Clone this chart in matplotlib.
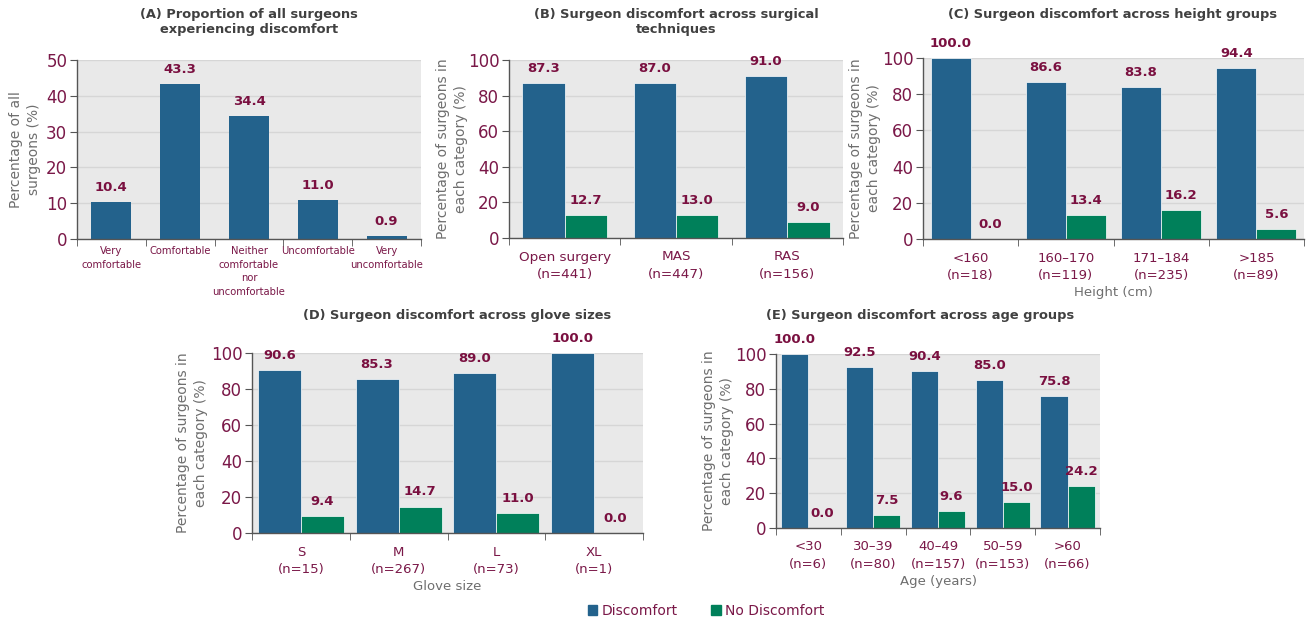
import matplotlib
matplotlib.use("Agg")
import matplotlib.pyplot as plt
import numpy as np
from matplotlib.patches import Patch

# ---------------- data ----------------
a_cats = ["Very\ncomfortable", "Comfortable", "Neither\ncomfortable\nnor\nuncomfortable",
          "Uncomfortable", "Very\nuncomfortable"]
a_vals = [10.4, 43.3, 34.4, 11.0, 0.9]

b_cats = ["Open surgery\n(n=441)", "MAS\n(n=447)", "RAS\n(n=156)"]
b_disc = [87.3, 87.0, 91.0]
b_nodisc = [12.7, 13.0, 9.0]

c_cats = ["<160\n(n=18)", "160\u2013170\n(n=119)", "171\u2013184\n(n=235)", ">185\n(n=89)"]
c_disc = [100.0, 86.6, 83.8, 94.4]
c_nodisc = [0.0, 13.4, 16.2, 5.6]

d_cats = ["S\n(n=15)", "M\n(n=267)", "L\n(n=73)", "XL\n(n=1)"]
d_disc = [90.6, 85.3, 89.0, 100.0]
d_nodisc = [9.4, 14.7, 11.0, 0.0]

e_cats = ["<30\n(n=6)", "30\u201339\n(n=80)", "40\u201349\n(n=157)", "50\u201359\n(n=153)", ">60\n(n=66)"]
e_disc = [100.0, 92.5, 90.4, 85.0, 75.8]
e_nodisc = [0.0, 7.5, 9.6, 15.0, 24.2]

# ---------------- style ----------------
BLUE = "#23628C"
GREEN = "#00805A"
BG = "#E9E9E9"
GRID = "#D6D6D6"
MAROON = "#7A1848"
VAL = "#7A1040"
TITLE = "#404040"
GRAYLAB = "#6E6E6E"
plt.rcParams['font.family'] = ['DejaVu Sans']

W, H = 1309, 625
fig = plt.figure(figsize=(W / 100, H / 100), dpi=100)


def make_ax(l, t, r, b):
    return fig.add_axes([l / W, 1 - b / H, (r - l) / W, (b - t) / H]), (l, r)


def style(axinfo, ncat, ymax, step, ylabel, ylab_right, xlabel=None, ticksize=12,
          catsize=9.5):
    ax, (l, r) = axinfo
    ax.set_facecolor(BG)
    ax.set_xlim(-0.5, ncat - 0.5)
    ax.set_ylim(0, ymax)
    ax.set_yticks(np.arange(0, ymax + 1, step))
    ax.yaxis.grid(True, color=GRID, lw=1)
    ax.set_axisbelow(True)
    for s in ["top", "right"]:
        ax.spines[s].set_visible(False)
    for s in ["left", "bottom"]:
        ax.spines[s].set_color("#555555")
        ax.spines[s].set_linewidth(1)
    ax.tick_params(axis="y", colors="#555555", labelcolor=MAROON, labelsize=ticksize,
                   length=5, pad=2)
    ax.set_xticks(np.arange(ncat))
    ax.set_xticks(np.arange(-0.5, ncat, 1), minor=True)
    ax.tick_params(axis="x", which="major", length=0, labelcolor=MAROON,
                   labelsize=catsize, pad=9)
    ax.tick_params(axis="x", which="minor", length=5, color="#555555")
    ax.set_ylabel(ylabel, color=GRAYLAB, fontsize=10, linespacing=1.35)
    ax.yaxis.set_label_coords((ylab_right - l) / (r - l), 0.5)
    if xlabel:
        ax.set_xlabel(xlabel, color=GRAYLAB, fontsize=9.5, labelpad=3)
    return ax


def grouped(ax, cats, disc, nodisc, bw, off=4.5):
    x = np.arange(len(cats))
    b1 = ax.bar(x - bw / 2, disc, bw, color=BLUE, edgecolor="white", linewidth=0.5)
    b2 = ax.bar(x + bw / 2, nodisc, bw, color=GREEN, edgecolor="white", linewidth=0.5)
    ax.set_xticklabels(cats, linespacing=1.45)
    for bars, vals in ((b1, disc), (b2, nodisc)):
        for r, v in zip(bars, vals):
            ax.text(r.get_x() + r.get_width() / 2, v + off, f"{v:.1f}", ha="center",
                    va="bottom", color=VAL, fontsize=9.5, fontweight="bold",
                    clip_on=False)


TS = 9.4  # title size
YL = "Percentage of surgeons in\neach category (%)"

# (A)
axA = style(make_ax(77, 60, 421, 239), 5, 50, 10, "Percentage of all\nsurgeons (%)", 41,
            catsize=7.2)
bars = axA.bar(np.arange(5), a_vals, 0.58, color=BLUE)
axA.set_xticklabels(a_cats, linespacing=1.45)
axA.tick_params(axis="x", which="major", pad=5)
for r, v in zip(bars, a_vals):
    axA.text(r.get_x() + r.get_width() / 2, v + 2.2, f"{v:.1f}", ha="center", va="bottom",
             color=VAL, fontsize=9.5, fontweight="bold")
fig.text(249 / W, 1 - 8 / H, "(A) Proportion of all surgeons\nexperiencing discomfort",
         ha="center", va="top", fontsize=TS, fontweight="bold", color=TITLE, linespacing=1.2)

# (B)
axB = style(make_ax(509, 60, 843, 238), 3, 100, 20, YL, 468, catsize=9.7)
grouped(axB, b_cats, b_disc, b_nodisc, 0.38)
fig.text(676 / W, 1 - 8 / H, "(B) Surgeon discomfort across surgical\ntechniques",
         ha="center", va="top", fontsize=TS, fontweight="bold", color=TITLE, linespacing=1.2)

# (C)
axC = style(make_ax(923, 58, 1304, 239), 4, 100, 20, YL, 881, xlabel="Height (cm)")
grouped(axC, c_cats, c_disc, c_nodisc, 0.42)
fig.text(1112 / W, 1 - 8 / H, "(C) Surgeon discomfort across height groups",
         ha="center", va="top", fontsize=TS, fontweight="bold", color=TITLE)

# (D)
axD = style(make_ax(252, 353, 643, 533), 4, 100, 20, YL, 208, xlabel="Glove size")
grouped(axD, d_cats, d_disc, d_nodisc, 0.44)
fig.text(457 / W, 1 - 309 / H, "(D) Surgeon discomfort across glove sizes",
         ha="center", va="top", fontsize=TS, fontweight="bold", color=TITLE)

# (E)
axE = style(make_ax(776, 354, 1100, 528), 5, 100, 20, YL, 734, xlabel="Age (years)")
grouped(axE, e_cats, e_disc, e_nodisc, 0.42)
fig.text(920 / W, 1 - 309 / H, "(E) Surgeon discomfort across age groups",
         ha="center", va="top", fontsize=TS, fontweight="bold", color=TITLE)

# legend
handles = [Patch(color=BLUE, label="Discomfort"), Patch(color=GREEN, label="No Discomfort")]
leg = fig.legend(handles=handles, loc="center", bbox_to_anchor=(706 / W, 1 - 611 / H),
                 ncol=2, frameon=False, fontsize=10, handlelength=0.7, handleheight=0.7,
                 handletextpad=0.3, columnspacing=2.4)
for t in leg.get_texts():
    t.set_color(MAROON)

fig.savefig("out.png", dpi=100, facecolor="white")
